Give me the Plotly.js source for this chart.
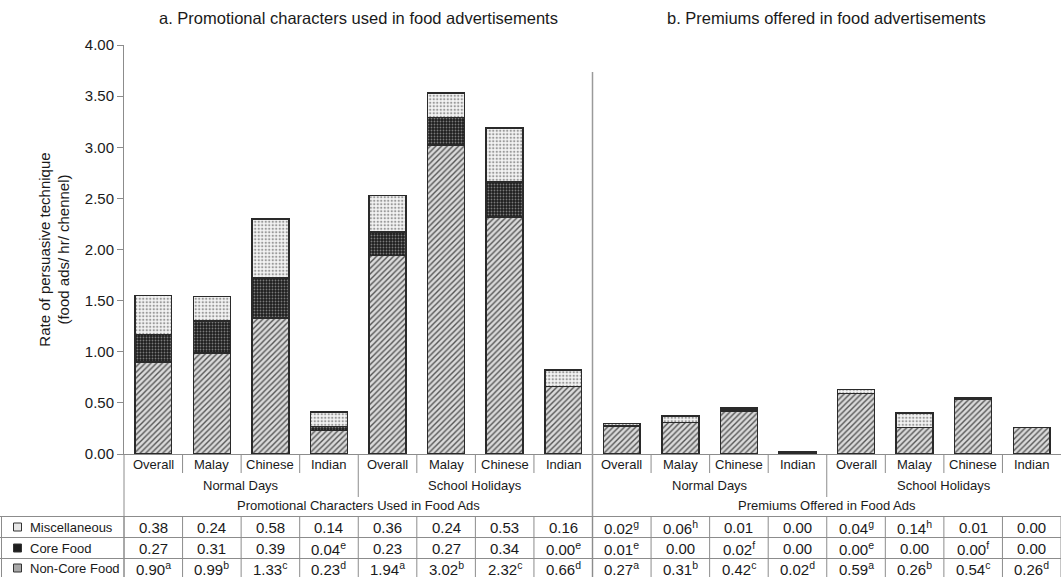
<!DOCTYPE html>
<html>
<head>
<meta charset="utf-8">
<script src="https://cdn.plot.ly/plotly-3.0.1.min.js"></script>
<style>html,body{margin:0;padding:0;background:#fff;}</style>
</head>
<body>
<div id="chart" style="width:1061px;height:577px;"></div>
<script>
// Rates of persuasive techniques in food advertisements (food ads / hr / channel)
const categories = ["Overall", "Malay", "Chinese", "Indian", "Overall", "Malay", "Chinese", "Indian",
                    "Overall", "Malay", "Chinese", "Indian", "Overall", "Malay", "Chinese", "Indian"];
const periods = ["Normal Days", "School Holidays", "Normal Days", "School Holidays"];
const techniques = ["Promotional Characters Used in Food Ads", "Premiums Offered in Food Ads"];
const panelTitles = ["a. Promotional characters used in food advertisements",
                     "b. Premiums offered in food advertisements"];
const seriesNames = ["Miscellaneous", "Core Food", "Non-Core Food"];

const miscellaneous = [0.38, 0.24, 0.58, 0.14, 0.36, 0.24, 0.53, 0.16,
                       0.02, 0.06, 0.01, 0.00, 0.04, 0.14, 0.01, 0.00];
const coreFood      = [0.27, 0.31, 0.39, 0.04, 0.23, 0.27, 0.34, 0.00,
                       0.01, 0.00, 0.02, 0.00, 0.00, 0.00, 0.00, 0.00];
const nonCoreFood   = [0.90, 0.99, 1.33, 0.23, 1.94, 3.02, 2.32, 0.66,
                       0.27, 0.31, 0.42, 0.02, 0.59, 0.26, 0.54, 0.26];

// significance letters shown as superscripts in the data table
const miscNotes    = ["", "", "", "", "", "", "", "", "g", "h", "", "", "g", "h", "", ""];
const coreNotes    = ["", "", "", "e", "", "", "", "e", "e", "", "f", "", "e", "", "f", ""];
const nonCoreNotes = ["a", "b", "c", "d", "a", "b", "c", "d", "a", "b", "c", "d", "a", "b", "c", "d"];

const yTicks = [0, 0.5, 1, 1.5, 2, 2.5, 3, 3.5, 4];

// ---- geometry ----
const W = 1061, H = 577;
const M = {l: 124, r: 0, t: 45, b: 123};
const plotW = W - M.l - M.r, plotH = H - M.t - M.b;
const N = categories.length;
const xs = categories.map((_, i) => i);
const FONT = "Liberation Sans, Arial, Helvetica, sans-serif";
const INK = "#1a1a1a";
const RULE = "#8c8c8c";

// category index -> paper x, pixel -> paper coordinates
const xp = i => (i + 0.5) / N;
const pxX = px => (px - M.l) / plotW;
const pxY = py => (H - M.b - py) / plotH;

const patternStyles = {
  "Non-Core Food": {shape: "/", bgcolor: "#dadada", fgcolor: "#555555", size: 4, solidity: 0.35},
  "Core Food":     {shape: ".", bgcolor: "#1e1e1e", fgcolor: "#7a7a7a", size: 3, solidity: 0.3},
  "Miscellaneous": {shape: ".", bgcolor: "#f4f4f4", fgcolor: "#9a9a9a", size: 3.5, solidity: 0.35}
};

function barTrace(name, values) {
  return {
    type: "bar", name: name, x: xs, y: values,
    marker: {color: patternStyles[name].bgcolor, pattern: patternStyles[name],
             line: {color: "#2a2a2a", width: 1.5}},
    hoverinfo: "name+y", showlegend: false
  };
}

const traces = [
  barTrace("Non-Core Food", nonCoreFood),
  barTrace("Core Food", coreFood),
  barTrace("Miscellaneous", miscellaneous)
];

const shapes = [];
const annotations = [];
function vline(xPaper, y0px, y1px, color, width) {
  shapes.push({type: "line", xref: "paper", yref: "paper", x0: xPaper, x1: xPaper,
               y0: pxY(y0px), y1: pxY(y1px), line: {color: color || RULE, width: width || 1}});
}
function hline(x0px, x1px, ypx) {
  shapes.push({type: "line", xref: "paper", yref: "paper", x0: pxX(x0px), x1: pxX(x1px),
               y0: pxY(ypx), y1: pxY(ypx), line: {color: RULE, width: 1}});
}
function label(xPaper, ypx, text, size, anchor) {
  annotations.push({xref: "paper", yref: "paper", x: xPaper, y: pxY(ypx), text: text,
                    showarrow: false, xanchor: anchor || "center", yanchor: "middle",
                    font: {family: FONT, size: size, color: INK}});
}

// panel titles
label(xp(3.5), 18, panelTitles[0], 16.5);
label(xp(11.5), 18, panelTitles[1], 16.5);

// divider between the two panels, running from the plot through the table
const split = N / 2 - 0.5;
vline(xp(split), 72, H, "#9a9a9a", 1.5);

// header rows under the axis
const rowTop = 455, rowCat = 464, rowPeriod = 485, rowTech = 506;
const dataLines = [516.5, 537.5, 558.5];
const dataCenters = [527, 548, 568];

categories.forEach((c, i) => label(xp(i), rowCat, c, 13));
for (let b = 0; b < N - 1; b++) {
  const xb = b + 0.5;
  if (xb === split) continue;
  const long = (b % 4 === 3);
  vline(xp(xb), rowTop, long ? 497 : 473);
}
vline(xp(-0.5), rowTop, H);
periods.forEach((p, k) => label(xp(k * 4 + 1.5), rowPeriod, p, 13));
techniques.forEach((t, k) => label(xp(k * 8 + 3.5), rowTech, t, 13));

// data table
dataLines.forEach(y => hline(0, W, y));
vline(pxX(1.5), dataLines[0], H);
for (let b = -0.5; b <= N - 0.5; b += 1) vline(xp(b), dataLines[0], H);

const tableRows = [
  {name: seriesNames[0], values: miscellaneous, notes: miscNotes, key: "#e6e6e6"},
  {name: seriesNames[1], values: coreFood, notes: coreNotes, key: "#1e1e1e"},
  {name: seriesNames[2], values: nonCoreFood, notes: nonCoreNotes, key: "#a8a8a8"}
];
tableRows.forEach((row, r) => {
  const yc = dataCenters[r];
  shapes.push({type: "rect", xref: "paper", yref: "paper",
               x0: pxX(13.5), x1: pxX(21.5), y0: pxY(yc - 4), y1: pxY(yc + 4),
               fillcolor: row.key, line: {color: "#333", width: 1}});
  label(pxX(28), yc, row.name, 13, "left");
  row.values.forEach((v, i) => {
    const note = row.notes[i] ? "<sup>" + row.notes[i] + "</sup>" : "";
    label(xp(i), yc, v.toFixed(2) + note, 15);
  });
});

const layout = {
  width: W, height: H,
  margin: M,
  paper_bgcolor: "#ffffff", plot_bgcolor: "#ffffff",
  barmode: "stack", bargap: 0.37,
  font: {family: FONT, color: INK},
  showlegend: false,
  xaxis: {range: [-0.5, N - 0.5], showticklabels: false, ticks: "", showgrid: false,
          zeroline: false, showline: true, linecolor: RULE, linewidth: 1, fixedrange: true},
  yaxis: {range: [0, 4], tickvals: yTicks, tickformat: ".2f", ticks: "outside", ticklen: 6,
          tickcolor: RULE, showline: true, linecolor: RULE, linewidth: 1, showgrid: false,
          zeroline: false, tickfont: {family: FONT, size: 15, color: INK},
          title: {text: "Rate of persuasive technique<br>(food ads/ hr/ chennel)",
                  font: {family: FONT, size: 15, color: INK}, standoff: 11}},
  shapes: shapes,
  annotations: annotations
};

Plotly.newPlot("chart", traces, layout, {displayModeBar: false, staticPlot: true});
</script>
</body>
</html>
